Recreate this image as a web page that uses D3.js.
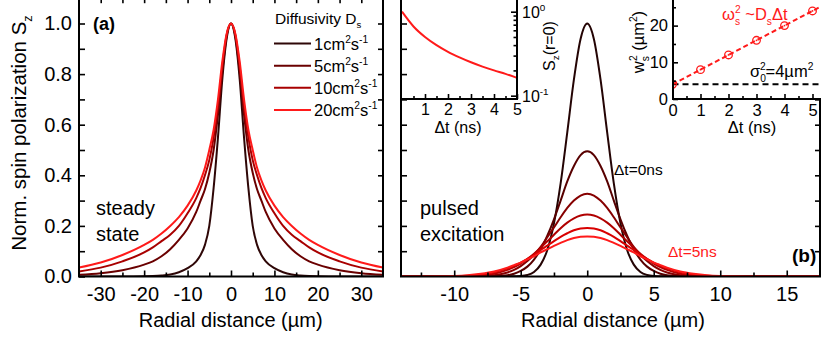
<!DOCTYPE html>
<html><head><meta charset="utf-8">
<script src="https://cdn.jsdelivr.net/npm/d3@7"></script>
<style>body{margin:0;background:#fff}svg{display:block}</style>
</head><body>
<svg id="c" width="821" height="340"></svg>
<script>
// ---------------- DATA ----------------
const diffusivityLabels = ["1", "5", "10", "20"];
const radiusSteady = [0,1,2,3,4,5,6,7,8,10,12,14,16,18,20,25,30,35];
const steadyD1  = [1.00,0.94,0.78,0.55,0.35,0.20,0.125,0.085,0.060,0.033,0.017,0.008,0.004,0.002,0.001,0,0,0];
const steadyD5  = [1.00,0.95,0.81,0.64,0.50,0.41,0.345,0.30,0.255,0.19,0.145,0.108,0.080,0.060,0.047,0.025,0.013,0.007];
const steadyD10 = [1.00,0.955,0.83,0.67,0.55,0.46,0.40,0.35,0.31,0.25,0.20,0.165,0.14,0.115,0.095,0.06,0.035,0.02];
const steadyD20 = [1.00,0.96,0.85,0.70,0.58,0.50,0.43,0.38,0.34,0.28,0.235,0.20,0.17,0.145,0.125,0.085,0.055,0.035];

const delayLabels = ["0", "1", "2", "3", "4", "5"];
const radiusPulsed = [0,0.5,1,1.5,2,2.5,3,3.5,4,4.5,5,5.5,6,7,8,9,10,11,12,14,17.5];
const pulsed0 = [1.000,0.939,0.779,0.570,0.368,0.210,0.105,0.047,0.018,0.006,0.002,0.001,0,0,0,0,0,0,0,0,0];
const pulsed1 = [0.495,0.480,0.437,0.376,0.300,0.226,0.161,0.107,0.067,0.039,0.022,0.011,0.005,0.001,0,0,0,0,0,0,0];
const pulsed2 = [0.327,0.320,0.300,0.271,0.234,0.194,0.155,0.117,0.086,0.061,0.041,0.026,0.016,0.005,0.001,0,0,0,0,0,0];
const pulsed3 = [0.245,0.241,0.230,0.213,0.191,0.165,0.139,0.114,0.090,0.069,0.051,0.037,0.026,0.011,0.004,0.001,0,0,0,0,0];
const pulsed4 = [0.192,0.190,0.183,0.171,0.157,0.140,0.122,0.105,0.086,0.070,0.055,0.042,0.032,0.017,0.008,0.003,0.001,0,0,0,0];
const pulsed5 = [0.158,0.157,0.152,0.144,0.133,0.121,0.108,0.095,0.080,0.068,0.055,0.045,0.035,0.020,0.011,0.005,0.002,0.001,0,0,0];

const decayTime = [0,0.5,1,1.5,2,2.5,3,3.5,4,4.5,5];
const decayPeak = [1.0,0.667,0.5,0.4,0.333,0.286,0.25,0.222,0.2,0.182,0.163];

const widthTime = [0,1,2,3,4,5];
const widthSq   = [4,8,12,16,20,24];
const fitTime   = [0,5.3];
const fitWidthSq= [4,25.2];
const sigma0Sq  = 4;

const xTicksA = [-30,-20,-10,0,10,20,30];
const yTicks  = [0,0.2,0.4,0.6,0.8,1.0];
const xTicksB = [-10,-5,0,5,10,15];
const insetTicksT = [1,2,3,4,5];
const insetTicksC = [0,1,2,3,4,5];
const insetTicksW = [0,10,20];

// ---------------- STYLE ----------------
const FONT = '"Liberation Sans", Arial, sans-serif';
const steadyColors = ["#2e0707", "#6a0000", "#a80000", "#ff1a1a"];
const pulsedColors = ["#240404", "#580000", "#860000", "#b00000", "#d80000", "#ff1a1a"];

const svg = d3.select("#c");
svg.append("rect").attr("width",821).attr("height",340).attr("fill","#fff");

const xA = d3.scaleLinear([-35,35],[79,383]);
const yA = d3.scaleLinear([0,1.1],[276.5,-1.8]);
const xB = d3.scaleLinear([-14,17.5],[401,820]);
const yB = d3.scaleLinear([0,1.1],[276.5,-1.8]);

function styleAxis(g, size){
  g.select(".domain").remove();
  g.attr("font-family", FONT).attr("font-size", size);
  g.selectAll("line").attr("stroke","#000").attr("stroke-width",1.6);
  g.selectAll("text").attr("fill","#000");
}
function rich(parent, x, y, parts, size, attrs){
  const t = parent.append("text").attr("x",x).attr("y",y)
    .attr("font-family",FONT).attr("font-size",size);
  if(attrs) Object.entries(attrs).forEach(([k,v])=>t.attr(k,v));
  let shift = 0;
  parts.forEach(p=>{
    const [s,k,dx] = p;
    const ts = t.append("tspan").text(s);
    const target = k==="sup" ? -0.42*size : k==="sub" ? 0.28*size : 0;
    ts.attr("dy", target-shift);
    if(dx) ts.attr("dx", dx);
    shift = target;
    if(k) ts.attr("font-size", size*0.62);
  });
  return t;
}
function mirror(rs, vs){
  const pts = [];
  for(let i=rs.length-1;i>0;i--) pts.push([-rs[i], vs[i]]);
  for(let i=0;i<rs.length;i++) pts.push([rs[i], vs[i]]);
  return pts;
}

// clip paths
const defs = svg.append("defs");
defs.append("clipPath").attr("id","clipA").append("rect").attr("x",79).attr("y",-5).attr("width",304).attr("height",282);
defs.append("clipPath").attr("id","clipB").append("rect").attr("x",401).attr("y",-5).attr("width",419).attr("height",282);
defs.append("clipPath").attr("id","clipC").append("rect").attr("x",673).attr("y",-5).attr("width",150).attr("height",104);

// ================= PANEL (a) =================
const gA = svg.append("g");
const lineA = d3.line().x(d=>xA(d[0])).y(d=>yA(d[1])).curve(d3.curveMonotoneX);
const steadySeries = [steadyD1, steadyD5, steadyD10, steadyD20];
gA.append("g").attr("clip-path","url(#clipA)").selectAll("path").data(steadySeries).join("path")
  .attr("d", v=>lineA(mirror(radiusSteady, v)))
  .attr("fill","none").attr("stroke",(d,i)=>steadyColors[i]).attr("stroke-width",2);

// axes (a)
styleAxis(gA.append("g").attr("transform","translate(0,276.5)")
  .call(d3.axisBottom(xA).tickValues(xTicksA).tickSize(-6).tickPadding(10).tickFormat(d=>String(d))), 20);
styleAxis(gA.append("g").attr("transform","translate(0,276.5)")
  .call(d3.axisBottom(xA).tickValues([-25,-15,-5,5,15,25]).tickSize(-4).tickFormat("")), 20);
styleAxis(gA.append("g").attr("transform","translate(0,-1.8)")
  .call(d3.axisTop(xA).tickValues([-30,-25,-20,-15,-10,-5,0,5,10,15,20,25,30]).tickSize(-5).tickFormat("")), 20);
styleAxis(gA.append("g").attr("transform","translate(79,0)")
  .call(d3.axisLeft(yA).tickValues(yTicks).tickSize(-6).tickPadding(7).tickFormat(d3.format(".1f"))), 20);
styleAxis(gA.append("g").attr("transform","translate(79,0)")
  .call(d3.axisLeft(yA).tickValues([0.1,0.3,0.5,0.7,0.9]).tickSize(-6).tickFormat("")), 20);
styleAxis(gA.append("g").attr("transform","translate(383,0)")
  .call(d3.axisRight(yA).tickValues([0.1,0.2,0.3,0.4,0.5,0.6,0.7,0.8,0.9,1.0]).tickSize(-5).tickFormat("")), 20);
gA.append("rect").attr("x",79).attr("y",-1.8).attr("width",304).attr("height",278.3)
  .attr("fill","none").attr("stroke","#000").attr("stroke-width",2);

// texts (a)
rich(svg, 26, 133, [["Norm. spin polarization S",""],["z","sub"]], 20.5,
  {"text-anchor":"middle","transform":"rotate(-90 26 133)"});
svg.append("text").attr("x",230.7).attr("y",327).attr("text-anchor","middle")
  .attr("font-family",FONT).attr("font-size",20).text("Radial distance (µm)");
svg.append("text").attr("x",93).attr("y",30).attr("font-family",FONT).attr("font-size",18)
  .attr("font-weight","bold").text("(a)");
svg.append("text").attr("x",96).attr("y",215).attr("font-family",FONT).attr("font-size",20).text("steady");
svg.append("text").attr("x",96).attr("y",241).attr("font-family",FONT).attr("font-size",20).text("state");

// legend
rich(svg, 275, 24, [["Diffusivity D",""],["s","sub"]], 15.5);
const legY = [43.5, 65.7, 87.8, 110];
diffusivityLabels.forEach((lab,i)=>{
  svg.append("line").attr("x1",274).attr("x2",311).attr("y1",legY[i]).attr("y2",legY[i])
    .attr("stroke",steadyColors[i]).attr("stroke-width",2);
  rich(svg, 314, legY[i]+6, [[lab+"cm",""],["2","sup"],["s",""],["-1","sup"]], 16.5);
});

// ================= PANEL (b) =================
const gB = svg.append("g");
const lineB = d3.line().x(d=>xB(d[0])).y(d=>yB(d[1])).curve(d3.curveMonotoneX);
const pulsedSeries = [pulsed0, pulsed1, pulsed2, pulsed3, pulsed4, pulsed5];
gB.append("g").attr("clip-path","url(#clipB)").selectAll("path").data(pulsedSeries).join("path")
  .attr("d", v=>lineB(mirror(radiusPulsed, v)))
  .attr("fill","none").attr("stroke",(d,i)=>pulsedColors[i]).attr("stroke-width",2);

styleAxis(gB.append("g").attr("transform","translate(0,276.5)")
  .call(d3.axisBottom(xB).tickValues(xTicksB).tickSize(-6).tickPadding(10).tickFormat(d=>String(d))), 20);
styleAxis(gB.append("g").attr("transform","translate(0,276.5)")
  .call(d3.axisBottom(xB).tickValues([-12.5,-7.5,-2.5,2.5,7.5,12.5,17.5]).tickSize(-4).tickFormat("")), 20);
styleAxis(gB.append("g").attr("transform","translate(401,0)")
  .call(d3.axisLeft(yB).tickValues([0.1,0.2,0.3,0.4,0.5,0.6,0.7,0.8,0.9,1.0]).tickSize(-6).tickFormat("")), 20);
styleAxis(gB.append("g").attr("transform","translate(820,0)")
  .call(d3.axisRight(yB).tickValues([0.1,0.2,0.3,0.4,0.5,0.6,0.7,0.8,0.9,1.0]).tickSize(-5).tickFormat("")), 20);
gB.append("rect").attr("x",401).attr("y",-1.8).attr("width",419).attr("height",278.3)
  .attr("fill","none").attr("stroke","#000").attr("stroke-width",2);

svg.append("text").attr("x",613).attr("y",327).attr("text-anchor","middle")
  .attr("font-family",FONT).attr("font-size",20).text("Radial distance (µm)");
svg.append("text").attr("x",420).attr("y",215).attr("font-family",FONT).attr("font-size",20).text("pulsed");
svg.append("text").attr("x",420).attr("y",241).attr("font-family",FONT).attr("font-size",20).text("excitation");
svg.append("text").attr("x",614).attr("y",175).attr("font-family",FONT).attr("font-size",15.5).text("Δt=0ns");
svg.append("text").attr("x",668).attr("y",257).attr("font-family",FONT).attr("font-size",15.5)
  .attr("fill","#ff1a1a").text("Δt=5ns");
svg.append("text").attr("x",792).attr("y",262).attr("font-family",FONT).attr("font-size",19)
  .attr("font-weight","bold").text("(b)");

// ================= INSET: S_z(r=0) vs Δt =================
const xI = d3.scaleLinear([0,5],[402,517]);
const yI = d3.scaleLog([0.0913,1.416],[99,-1]);
const gI = svg.append("g");
gI.append("rect").attr("x",401).attr("y",-3).attr("width",116).attr("height",102).attr("fill","#fff");
gI.append("path").datum(decayTime.map((t,i)=>[t,decayPeak[i]]))
  .attr("d", d3.line().x(d=>xI(d[0])).y(d=>yI(d[1])).curve(d3.curveMonotoneX))
  .attr("fill","none").attr("stroke","#ff1a1a").attr("stroke-width",2);
styleAxis(gI.append("g").attr("transform","translate(0,99)")
  .call(d3.axisBottom(xI).tickValues(insetTicksT).tickSize(-5).tickPadding(5).tickFormat(d=>String(d))), 16);
styleAxis(gI.append("g").attr("transform","translate(0,99)")
  .call(d3.axisBottom(xI).tickValues([0.5,1.5,2.5,3.5,4.5]).tickSize(-3).tickFormat("")), 16);
styleAxis(gI.append("g").attr("transform","translate(401,0)")
  .call(d3.axisLeft(yB).tickValues([0.8,0.9,1.0]).tickSize(-6).tickFormat("")), 16);
styleAxis(gI.append("g").attr("transform","translate(517,0)")
  .call(d3.axisRight(yI).tickValues([0.1,1]).tickSize(-6).tickFormat("")), 16);
styleAxis(gI.append("g").attr("transform","translate(517,0)")
  .call(d3.axisRight(yI).tickValues([0.2,0.3,0.4,0.5,0.6,0.7,0.8,0.9]).tickSize(-3.5).tickFormat("")), 16);
gI.append("path").attr("d","M401,-3V99H517V-3").attr("fill","none").attr("stroke","#000").attr("stroke-width",2);
rich(svg, 522, 18, [["10",""],["0","sup"]], 16);
rich(svg, 522, 102, [["10",""],["-1","sup"]], 16);
rich(svg, 555, 46, [["S",""],["z","sub"],["(r=0)",""]], 16,
  {"text-anchor":"middle","transform":"rotate(-90 555 46)"});
svg.append("text").attr("x",458).attr("y",133).attr("text-anchor","middle")
  .attr("font-family",FONT).attr("font-size",16).text("Δt (ns)");

// ================= INSET: w_s^2 vs Δt =================
const xC = d3.scaleLinear([0,5.3],[672.5,820.9]);
const yC = d3.scaleLinear([0,27.5],[99,-1.9]);
const gC = svg.append("g");
gC.append("rect").attr("x",673).attr("y",-3).attr("width",150).attr("height",102).attr("fill","#fff");
const gCc = gC.append("g").attr("clip-path","url(#clipC)");
gCc.append("line").attr("x1",xC(0)).attr("x2",820).attr("y1",yC(sigma0Sq)).attr("y2",yC(sigma0Sq))
  .attr("stroke","#000").attr("stroke-width",2).attr("stroke-dasharray","6,4");
gCc.append("path").datum(fitTime.map((t,i)=>[t,fitWidthSq[i]]))
  .attr("d", d3.line().x(d=>xC(d[0])).y(d=>yC(d[1])))
  .attr("fill","none").attr("stroke","#ff1a1a").attr("stroke-width",2).attr("stroke-dasharray","5,3");
const pts = gCc.selectAll("g.pt").data(widthTime.map((t,i)=>[t,widthSq[i]])).join("g")
  .attr("transform",d=>`translate(${xC(d[0])},${yC(d[1])})`);
pts.append("circle").attr("r",3.8).attr("fill","none").attr("stroke","#ff1a1a").attr("stroke-width",1.3);
pts.append("circle").attr("r",0.9).attr("fill","#ff1a1a");
styleAxis(gC.append("g").attr("transform","translate(0,99)")
  .call(d3.axisBottom(xC).tickValues(insetTicksC).tickSize(-5).tickPadding(5).tickFormat(d=>String(d))), 16.5);
styleAxis(gC.append("g").attr("transform","translate(0,99)")
  .call(d3.axisBottom(xC).tickValues([0.5,1.5,2.5,3.5,4.5]).tickSize(-3).tickFormat("")), 16.5);
styleAxis(gC.append("g").attr("transform","translate(673,0)")
  .call(d3.axisLeft(yC).tickValues(insetTicksW).tickSize(-5).tickPadding(5).tickFormat(d=>String(d))), 16.5);
styleAxis(gC.append("g").attr("transform","translate(673,0)")
  .call(d3.axisLeft(yC).tickValues([5,15,25]).tickSize(-3).tickFormat("")), 16.5);
gC.append("path").attr("d","M673,-3V99H822").attr("fill","none").attr("stroke","#000").attr("stroke-width",2);
rich(svg, 644, 42, [["w",""],["s","sub"],["2","sup",-5],[" (µm",""],["2","sup"],[")",""]], 16.5,
  {"text-anchor":"middle","transform":"rotate(-90 644 42)"});
svg.append("text").attr("x",752).attr("y",133).attr("text-anchor","middle")
  .attr("font-family",FONT).attr("font-size",16.5).text("Δt (ns)");
rich(svg, 722, 20, [["ω",""],["s","sub"],["2","sup",-5],[" ~D",""],["s","sub"],["Δt",""]], 16.5, {"fill":"#ff1a1a"});
rich(svg, 750, 77, [["σ",""],["0","sub"],["2","sup",-6],["=4µm",""],["2","sup"]], 16.5);
</script>
</body></html>
